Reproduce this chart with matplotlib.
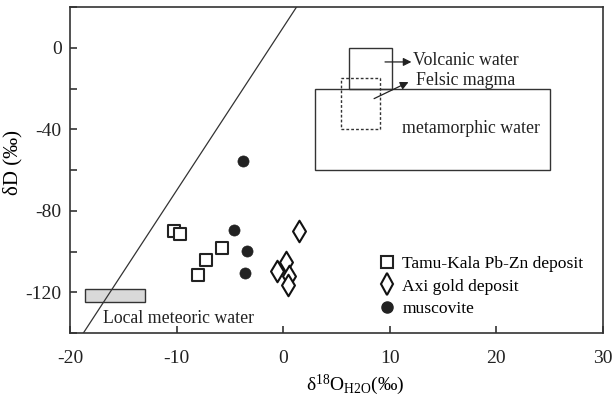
import matplotlib
matplotlib.use("Agg")
import matplotlib.pyplot as plt
from matplotlib.patches import Rectangle
from matplotlib.lines import Line2D

plt.rcParams['font.family'] = ['Liberation Serif', 'DejaVu Serif']
plt.rcParams['mathtext.fontset'] = 'custom'
plt.rcParams['mathtext.rm'] = 'Liberation Serif'
plt.rcParams['mathtext.it'] = 'Liberation Serif:italic'
plt.rcParams['axes.unicode_minus'] = False

# Data
tamu_x = [-10.2, -9.65, -5.7, -7.2, -8.0]
tamu_y = [-90.0, -91.3, -98.2, -103.9, -111.3]
axi_x = [1.5, 0.25, -0.6, 0.55, 0.45]
axi_y = [-90.0, -105.2, -109.3, -111.8, -116.3]
musc_x = [-3.8, -4.6, -3.4, -3.6]
musc_y = [-55.4, -89.2, -99.8, -110.6]

x_ticks = [-20, -10, 0, 10, 20, 30]
y_ticks = [-140, -120, -100, -80, -60, -40, -20, 0, 20]
y_labels = ['', '-120', '', '-80', '', '-40', '', '0', '']

# GMWL: dD = 8 d18O + 10
mwl_x = [-18.75, 1.25]
mwl_y = [8 * v + 10 for v in mwl_x]

fig = plt.figure(figsize=(6.12, 3.97), dpi=100)
ax = fig.add_axes([0.1144, 0.161, 0.985 - 0.1144, 0.982 - 0.161])
ax.set_xlim(-20, 30)
ax.set_ylim(-140, 20)

ax.plot(mwl_x, mwl_y, color='#333333', lw=0.9)

# regions
ax.add_patch(Rectangle((-18.6, -124.5), 5.6, 6.0, facecolor='#d9d9d9',
                       edgecolor='#333333', lw=1.0))
ax.add_patch(Rectangle((3.0, -60), 22.0, 40, facecolor='none',
                       edgecolor='#333333', lw=1.0))
ax.add_patch(Rectangle((6.2, -20), 4.0, 20, facecolor='none',
                       edgecolor='#333333', lw=1.0))
ax.add_patch(Rectangle((5.4, -40), 3.7, 25, facecolor='none',
                       edgecolor='#333333', lw=1.0, ls=(0, (2, 1.5))))

ax.annotate('', xy=(12.3, -6.9), xytext=(9.3, -6.9),
            arrowprops=dict(arrowstyle='-|>', color='#222222', lw=0.9,
                            mutation_scale=12))
ax.annotate('', xy=(12.0, -16.2), xytext=(8.3, -25.5),
            arrowprops=dict(arrowstyle='-|>', color='#222222', lw=0.9,
                            mutation_scale=12))

ax.text(12.2, -6.2, 'Volcanic water', fontsize=12.8, va='center', ha='left', color='#222222')
ax.text(12.5, -16.2, 'Felsic magma', fontsize=12.8, va='center', ha='left', color='#222222')
ax.text(11.2, -39.7, 'metamorphic water', fontsize=12.8, va='center', ha='left', color='#222222')
ax.text(-16.9, -132.8, 'Local meteoric water', fontsize=12.8, va='center', ha='left', color='#222222')

ax.scatter(tamu_x, tamu_y, marker='s', s=72, facecolors='white',
           edgecolors='#222222', linewidths=1.5, zorder=3)
ax.scatter(axi_x, axi_y, marker='d', s=120, facecolors='white',
           edgecolors='#111111', linewidths=1.5, zorder=3)
ax.scatter(musc_x, musc_y, marker='o', s=64, facecolors='#222222',
           edgecolors='#222222', linewidths=0.5, zorder=3)

handles = [
    Line2D([], [], ls='none', marker='s', markersize=8.5, markerfacecolor='white',
           markeredgecolor='#222222', markeredgewidth=1.5),
    Line2D([], [], ls='none', marker='d', markersize=11, markerfacecolor='white',
           markeredgecolor='#111111', markeredgewidth=1.5),
    Line2D([], [], ls='none', marker='o', markersize=8, markerfacecolor='#222222',
           markeredgecolor='#222222'),
]
labels = ['Tamu-Kala Pb-Zn deposit', 'Axi gold deposit', 'muscovite']
ax.legend(handles, labels, loc='lower left', bbox_to_anchor=(0.568, 0.028),
          frameon=False, fontsize=12.6, handlelength=0.8, handletextpad=0.5,
          labelspacing=0.35, borderaxespad=0)

ax.set_xticks(x_ticks)
ax.set_yticks(y_ticks)
ax.set_yticklabels(y_labels)
ax.tick_params(direction='in', length=5, width=1.1, labelsize=14, colors='#222222',
               top=False, right=False, pad=6)
ax.tick_params(axis='x', pad=12)
for s in ax.spines.values():
    s.set_linewidth(1.2)
    s.set_color('#333333')

ax.set_xlabel('δ$^{18}$O$_{\\mathrm{H2O}}$(‰)', fontsize=14, va='top')
ax.xaxis.set_label_coords(0.535, -0.122)
ax.set_ylabel('δD (‰)', fontsize=15)
ax.yaxis.set_label_coords(-0.09, 0.523)

fig.savefig('out.png', dpi=100)
